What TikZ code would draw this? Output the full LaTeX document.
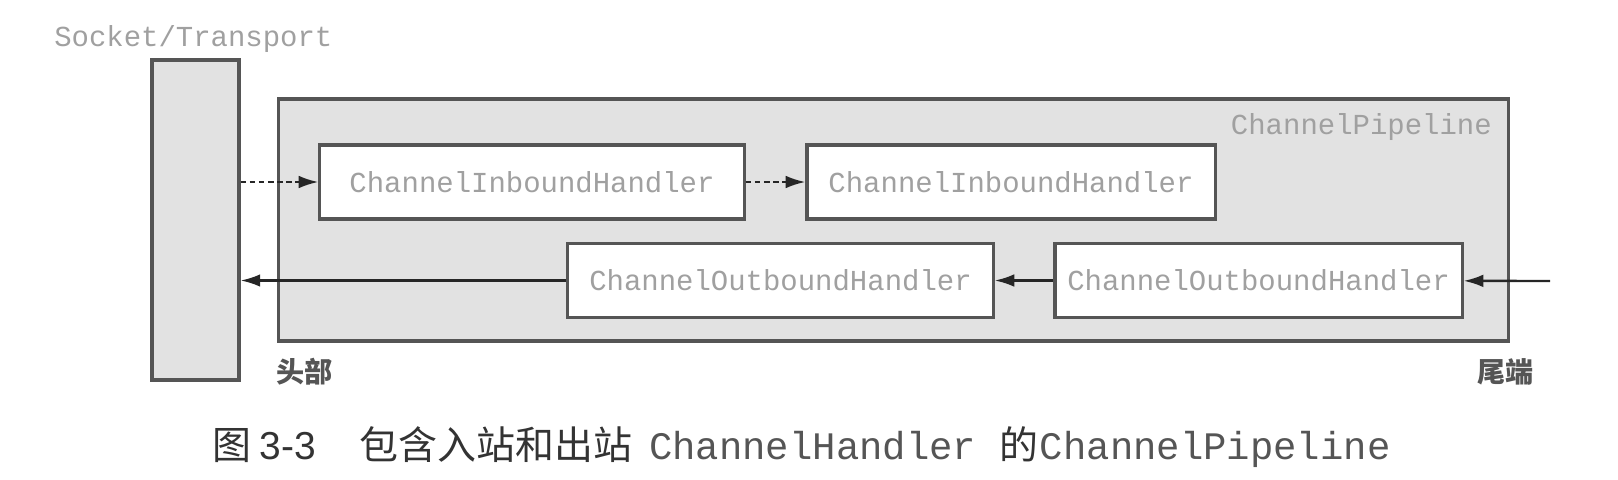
\documentclass[tikz,border=0pt]{standalone}
\usepackage{fontspec}
\setmonofont{Liberation Mono}
\newfontfamily\cjkfont{Noto Sans CJK SC}
\newfontfamily\capfont{Liberation Sans}
\usetikzlibrary{arrows.meta,positioning,calc}
\definecolor{frameGray}{HTML}{555555}
\definecolor{fillGray}{HTML}{E2E2E2}
\definecolor{labelGray}{HTML}{A0A0A0}
\definecolor{capGray}{HTML}{555555}

\begin{document}
\begin{tikzpicture}[x=0.025cm,y=-0.025cm,>={Latex[length=14pt,width=9pt]},
  panel/.style={draw=frameGray,line width=2.2pt,fill=fillGray,inner sep=0pt},
  handler/.style={draw=frameGray,line width=2.2pt,fill=white,minimum height=1.85cm,inner sep=0pt,
    font=\fontsize{20.6}{24}\ttfamily\selectfont,text=labelGray},
  tag/.style={font=\fontsize{20.6}{24}\ttfamily\selectfont,text=labelGray,inner sep=0pt},
  endlab/.style={font=\fontsize{20}{24}\cjkfont\bfseries,text=capGray,inner sep=0pt},
  flow/.style={->,line width=1.7pt,draw=black!85},
  inflow/.style={flow,dash pattern=on 4pt off 2.5pt}]
  \useasboundingbox (0,0) rectangle (1618,480);
  % transport column and pipeline frame
  \node[panel,minimum width=2.175cm,minimum height=8cm] (socket) at (195.5,220) {};
  \node[tag,anchor=west] (socketlab) at (54,39) {Socket/Transport};
  \node[panel,minimum width=30.725cm,minimum height=6.05cm] (pipe) at (893.5,220) {};
  \node[tag,anchor=east] (pipelab) at (1492,127) {ChannelPipeline};
  % handlers
  \foreach \id/\cx/\cy/\bw/\lab in {in1/532/182/10.6/Inbound,in2/1011/182/10.2/Inbound,
      out1/780.5/280.5/10.625/Outbound,out2/1258.5/280.5/10.175/Outbound}
    \node[handler,minimum width=\bw cm] (\id) at (\cx,\cy) {Channel\lab Handler};
  % events
  \coordinate (feed) at (1550,281);
  \draw[inflow] (socket.east |- in1.west) -- (in1.west);
  \draw[inflow] (in1) -- (in2);
  \draw[flow] (feed) -- (out2);
  \draw[flow] (out2) -- (out1);
  \draw[flow] (out1.west) -- (socket.east |- out1.west);
  \node[endlab,anchor=west] (head) at (276,372) {头部};
  \node[endlab,anchor=west] (tail) at (1477,372) {尾端};
  \node[anchor=west,inner sep=0pt,text=black!80,font=\fontsize{27.7}{32}\selectfont] (caption) at (212,447) {{\cjkfont 图}\hspace{6pt}{\capfont 3-3}\hspace{31pt}{\cjkfont 包含入站和出站}\hspace{12pt}{\ttfamily\color{capGray}ChannelHandler}\hspace{16.5pt}{\cjkfont 的}\hspace{1pt}{\ttfamily\color{capGray}ChannelPipeline}};
\end{tikzpicture}
\end{document}
